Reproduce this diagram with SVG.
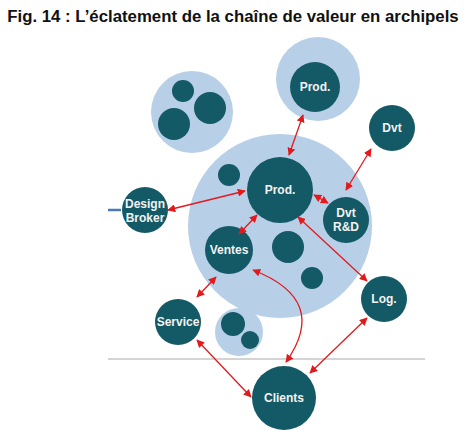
<svg xmlns="http://www.w3.org/2000/svg" width="475" height="439" viewBox="0 0 475 439">
<defs>
<style>
.isl{fill:#b8cfe8}
.dk{fill:#145966}
.lb{fill:#f2f2f2;font-family:"Liberation Sans",Arial,sans-serif;font-weight:bold;font-size:12px;text-anchor:middle}
.ar{stroke:#e3191c;stroke-width:1.3;fill:none;marker-start:url(#ah);marker-end:url(#ah)}
</style>
<marker id="ah" viewBox="0 0 10 10" refX="9" refY="5" markerWidth="8" markerHeight="8" orient="auto-start-reverse" markerUnits="userSpaceOnUse">
<path d="M0,0 L10,5 L0,10 z" fill="#e3191c"/>
</marker>
</defs>
<rect width="475" height="439" fill="#fff"/>
<text x="233" y="22" font-family="'Liberation Sans',Arial,sans-serif" font-weight="bold" font-size="16.8" text-anchor="middle" fill="#111">Fig. 14 : L’éclatement de la chaîne de valeur en archipels</text>
<line x1="108" y1="359" x2="425" y2="359" stroke="#d4d4d4" stroke-width="2"/>
<line x1="108" y1="210" x2="121" y2="210" stroke="#4a78b8" stroke-width="2.5"/>
<g id="island-topleft">
<circle class="isl" cx="192" cy="112" r="41"/>
<circle class="dk" cx="183" cy="91" r="11"/>
<circle class="dk" cx="210" cy="108" r="16"/>
<circle class="dk" cx="174" cy="124" r="16"/>
</g>
<g id="island-main">
<circle class="isl" cx="280" cy="226" r="92"/>
<circle class="isl" cx="239" cy="332" r="24"/>
<circle class="dk" cx="229" cy="175" r="11"/>
<circle class="dk" cx="288" cy="247" r="16"/>
<circle class="dk" cx="312" cy="278" r="11"/>
<circle class="dk" cx="233" cy="324" r="12"/>
<circle class="dk" cx="250" cy="340" r="9"/>
</g>
<g id="island-prod-top">
<circle class="isl" cx="318" cy="79" r="42"/>
</g>
<g id="node-prod-top">
<circle class="dk" cx="315" cy="87" r="25"/>
<text class="lb" x="315" y="91">Prod.</text>
</g>
<g id="node-prod">
<circle class="dk" cx="280" cy="190" r="33"/>
<text class="lb" x="280" y="194">Prod.</text>
</g>
<g id="node-dvt">
<circle class="dk" cx="392" cy="128" r="23"/>
<text class="lb" x="392" y="132">Dvt</text>
</g>
<g id="node-dvt-rd">
<circle class="dk" cx="346" cy="220" r="23"/>
<text class="lb" x="346" y="217">Dvt</text>
<text class="lb" x="346" y="231">R&amp;D</text>
</g>
<g id="node-design-broker">
<circle class="dk" cx="145" cy="210" r="23"/>
<text class="lb" x="145" y="208">Design</text>
<text class="lb" x="145" y="222">Broker</text>
</g>
<g id="node-ventes">
<circle class="dk" cx="229" cy="250" r="24"/>
<text class="lb" x="229" y="254">Ventes</text>
</g>
<g id="node-service">
<circle class="dk" cx="178" cy="322" r="23"/>
<text class="lb" x="178" y="326" font-size="11">Service</text>
</g>
<g id="node-log">
<circle class="dk" cx="384" cy="299" r="23"/>
<text class="lb" x="384" y="303">Log.</text>
</g>
<g id="node-clients">
<circle class="dk" cx="284" cy="398" r="32"/>
<text class="lb" x="284" y="402">Clients</text>
</g>
<g id="connectors">
<line class="ar" x1="303" y1="115" x2="289" y2="155"/>
<line class="ar" x1="371" y1="149" x2="346" y2="190"/>
<line class="ar" x1="314" y1="195" x2="328" y2="203"/>
<line class="ar" x1="298" y1="217" x2="367" y2="281"/>
<line class="ar" x1="245" y1="191" x2="168" y2="210"/>
<line class="ar" x1="257" y1="215" x2="239" y2="234"/>
<line class="ar" x1="216" y1="277" x2="197" y2="297"/>
<path class="ar" d="M253,270 Q330,300 286,362"/>
<line class="ar" x1="197" y1="340" x2="251" y2="397"/>
<line class="ar" x1="367" y1="318" x2="310" y2="373"/>
</g>
</svg>
